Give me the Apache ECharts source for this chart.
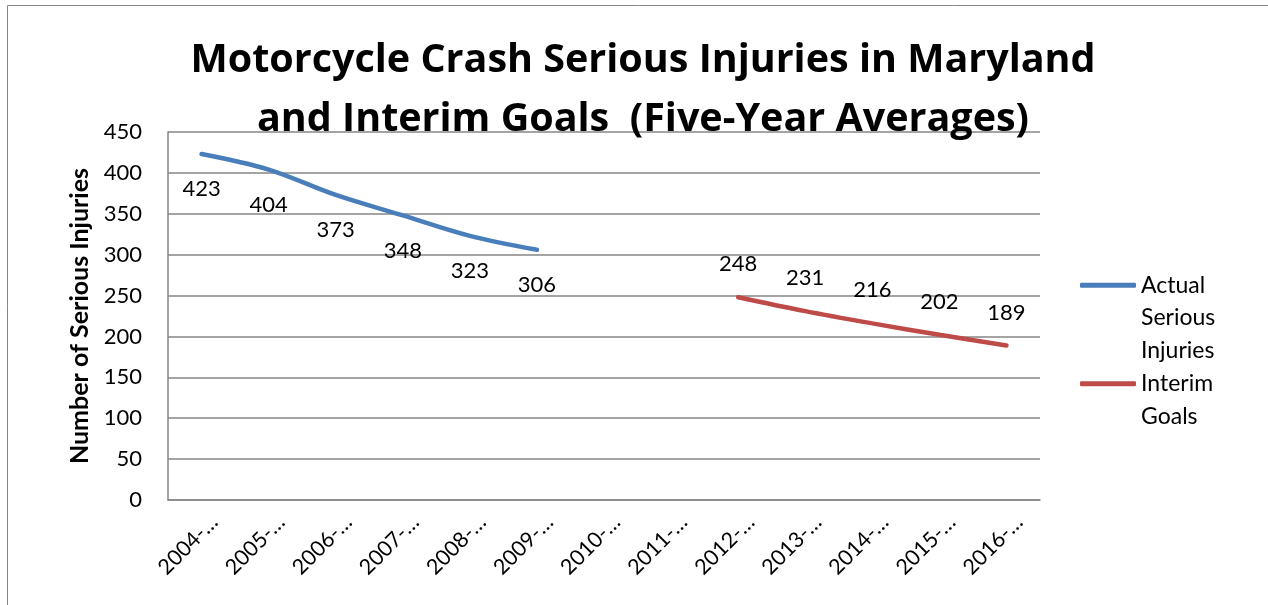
<!DOCTYPE html>
<html>
<head>
<meta charset="utf-8">
<script src="https://cdn.jsdelivr.net/npm/echarts@6/dist/echarts.min.js"></script>
<style>
  html, body { margin: 0; padding: 0; background: #fff; }
  #chart { width: 1268px; height: 605px; }
</style>
</head>
<body>
<div id="chart"></div>
<script>
// categories (five-year periods, truncated as in the original)
const periods = ['2004-…', '2005-…', '2006-…', '2007-…', '2008-…', '2009-…', '2010-…',
  '2011-…', '2012-…', '2013-…', '2014-…', '2015-…', '2016-…'];

// actual serious injuries (five-year averages)
const actualInjuries = [423, 404, 373, 348, 323, 306, null, null, null, null, null, null, null];

// interim goals
const interimGoals = [null, null, null, null, null, null, null, null, 248, 231, 216, 202, 189];

const FONT = 'Lato, "Open Sans", sans-serif';
const TITLE_FONT = '"Open Sans", Lato, sans-serif';
const chart = echarts.init(document.getElementById('chart'));

const option = {
  animation: false,
  backgroundColor: '#fff',
  graphic: [
    {
      // outer chart frame
      type: 'rect',
      shape: { x: 7.5, y: 5.5, width: 1400, height: 800 },
      style: { fill: 'none', stroke: '#868686', lineWidth: 1 },
      silent: true,
      z: -1
    }
  ],
  title: {
    text: 'Motorcycle Crash Serious Injuries in Maryland\nand Interim Goals  (Five-Year Averages)',
    left: 638,
    top: 26,
    textAlign: 'center',
    textStyle: {
      fontFamily: TITLE_FONT,
      fontWeight: 'bold',
      fontSize: 39.5,
      lineHeight: 59,
      color: '#000'
    }
  },
  legend: [
    {
      data: ['Actual Serious Injuries'],
      orient: 'vertical',
      left: 1080,
      top: 204,
      padding: 0,
      icon: 'roundRect',
      itemWidth: 56,
      itemHeight: 5,
      formatter: () => '\n\nActual\nSerious\nInjuries',
      textStyle: { fontFamily: FONT, fontSize: 23, lineHeight: 32.5, color: '#000' }
    },
    {
      data: ['Interim Goals'],
      orient: 'vertical',
      left: 1080,
      top: 335,
      padding: 0,
      icon: 'roundRect',
      itemWidth: 56,
      itemHeight: 5,
      formatter: () => '\nInterim\nGoals',
      textStyle: { fontFamily: FONT, fontSize: 23, lineHeight: 32.5, color: '#000' }
    }
  ],
  grid: {
    left: 168,
    top: 132,
    width: 872,
    height: 368,
    containLabel: false
  },
  xAxis: {
    type: 'category',
    data: periods,
    boundaryGap: true,
    axisLine: { show: true, lineStyle: { color: '#868686', width: 1.5 } },
    axisTick: { show: false },
    axisLabel: {
      rotate: 45,
      interval: 0,
      margin: 6,
      verticalAlign: 'top',
      lineHeight: 36,
      fontFamily: FONT,
      fontSize: 21.5,
      color: '#000'
    }
  },
  yAxis: {
    type: 'value',
    min: 0,
    max: 450,
    interval: 50,
    name: 'Number of Serious Injuries',
    nameLocation: 'middle',
    nameGap: 74,
    nameTextStyle: {
      fontFamily: FONT,
      fontWeight: 'bold',
      fontSize: 25,
      color: '#000'
    },
    axisLine: { show: true, lineStyle: { color: '#868686', width: 1.5 } },
    axisTick: { show: false },
    splitLine: { show: true, lineStyle: { color: '#868686', width: 1.5 } },
    axisLabel: {
      margin: 26,
      fontFamily: FONT,
      fontSize: 22,
      color: '#000'
    }
  },
  series: [
    {
      name: 'Actual Serious Injuries',
      type: 'line',
      data: actualInjuries,
      smooth: 0.35,
      symbol: 'circle',
      symbolSize: 0,
      showSymbol: true,
      connectNulls: false,
      color: '#4A7EBB',
      lineStyle: { color: '#4A7EBB', width: 4.5, cap: 'round' },
      label: {
        show: true,
        position: 'bottom',
        distance: 24,
        fontFamily: FONT,
        fontSize: 22,
        color: '#000'
      }
    },
    {
      name: 'Interim Goals',
      type: 'line',
      data: interimGoals,
      smooth: 0.35,
      symbol: 'circle',
      symbolSize: 0,
      showSymbol: true,
      connectNulls: false,
      color: '#BE4B48',
      lineStyle: { color: '#BE4B48', width: 4.5, cap: 'round' },
      label: {
        show: true,
        position: 'top',
        distance: 22,
        fontFamily: FONT,
        fontSize: 22,
        color: '#000'
      }
    }
  ]
};

chart.setOption(option);
</script>
</body>
</html>
